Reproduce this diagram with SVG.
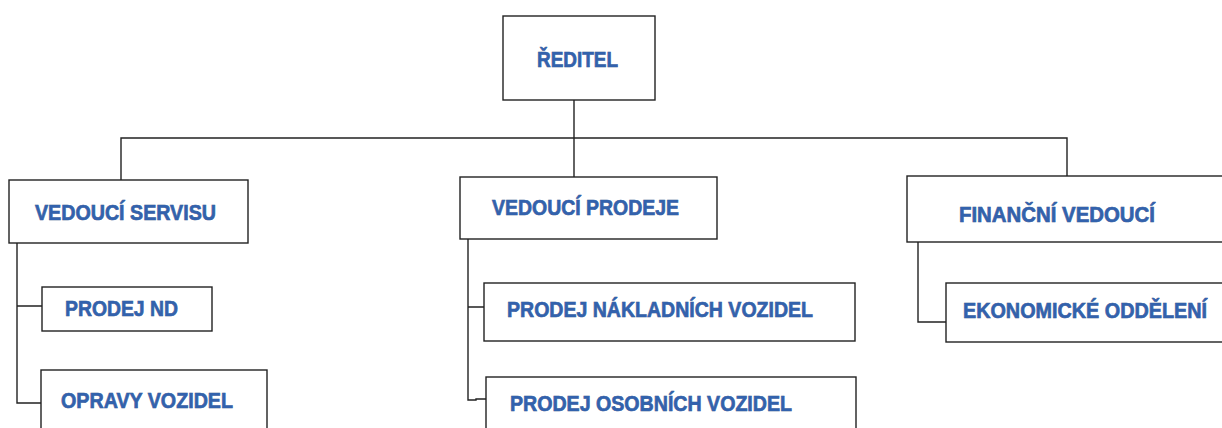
<svg xmlns="http://www.w3.org/2000/svg" width="1222" height="428" viewBox="0 0 1222 428">
<style>
.box{fill:#ffffff;stroke:#222222;stroke-width:1.4}
.lbl{font-family:"Liberation Sans",Arial,sans-serif;font-weight:bold;font-size:21.5px;fill:#3262ad;stroke:#1f4583;stroke-width:0.6;paint-order:stroke}
.con{fill:none;stroke:#222222;stroke-width:1.4}
</style>
<rect width="1222" height="428" fill="#ffffff"/>
<g id="connectors">
<path class="con" d="M574,100 V177"/>
<path class="con" d="M121,180 V138 H1067 V176"/>
<path class="con" d="M17,243 V403 H41 M17,306 H42"/>
<path class="con" d="M468,239 V400 H476 V399 H486 M468,307 H484"/>
<path class="con" d="M918,242 V322 H946"/>
</g>
<g id="reditel">
<rect class="box" x="503" y="16" width="152" height="84"/>
<text class="lbl" x="537" y="67" textLength="81" lengthAdjust="spacingAndGlyphs">ŘEDITEL</text>
</g>
<g id="vedouci-servisu">
<rect class="box" x="9" y="180" width="239" height="63"/>
<text class="lbl" x="35" y="220" textLength="181" lengthAdjust="spacingAndGlyphs">VEDOUCÍ SERVISU</text>
</g>
<g id="prodej-nd">
<rect class="box" x="42" y="287" width="170" height="44"/>
<text class="lbl" x="65" y="316" textLength="113" lengthAdjust="spacingAndGlyphs">PRODEJ ND</text>
</g>
<g id="opravy-vozidel">
<rect class="box" x="41" y="370" width="226" height="70"/>
<text class="lbl" x="61" y="408" textLength="172" lengthAdjust="spacingAndGlyphs">OPRAVY VOZIDEL</text>
</g>
<g id="vedouci-prodeje">
<rect class="box" x="460" y="177" width="257" height="62"/>
<text class="lbl" x="492" y="215" textLength="187" lengthAdjust="spacingAndGlyphs">VEDOUCÍ PRODEJE</text>
</g>
<g id="prodej-nakladnich">
<rect class="box" x="484" y="283" width="371" height="58"/>
<text class="lbl" x="507" y="317" textLength="306" lengthAdjust="spacingAndGlyphs">PRODEJ NÁKLADNÍCH VOZIDEL</text>
</g>
<g id="prodej-osobnich">
<rect class="box" x="486" y="377" width="370" height="70"/>
<text class="lbl" x="510" y="411" textLength="282" lengthAdjust="spacingAndGlyphs">PRODEJ OSOBNÍCH VOZIDEL</text>
</g>
<g id="financni-vedouci">
<rect class="box" x="907" y="176" width="330" height="66"/>
<text class="lbl" x="959" y="222" textLength="196" lengthAdjust="spacingAndGlyphs">FINANČNÍ VEDOUCÍ</text>
</g>
<g id="ekonomicke-oddeleni">
<rect class="box" x="946" y="283" width="290" height="59"/>
<text class="lbl" x="963" y="318" textLength="244" lengthAdjust="spacingAndGlyphs">EKONOMICKÉ ODDĚLENÍ</text>
</g>
</svg>
